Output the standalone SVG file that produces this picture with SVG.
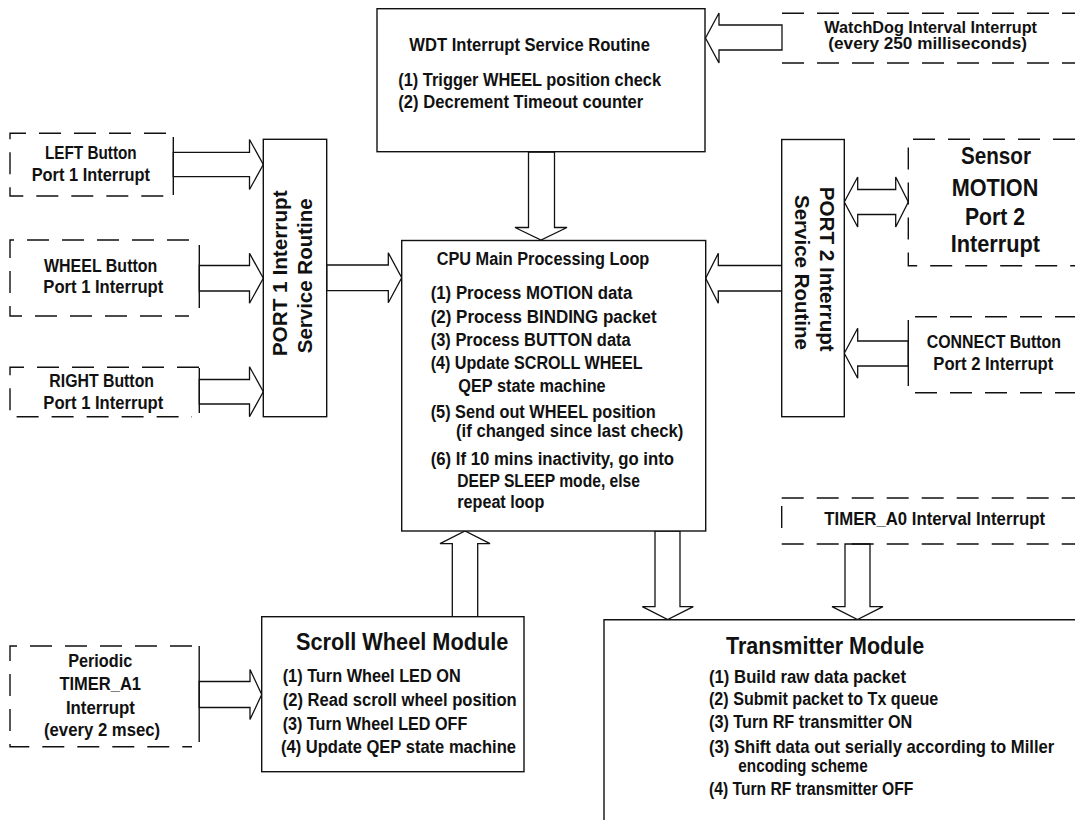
<svg xmlns="http://www.w3.org/2000/svg" width="1075" height="820" viewBox="0 0 1075 820">
<style>
text{font-family:"Liberation Sans Narrow","Liberation Sans",Arial,sans-serif;font-weight:bold;fill:#111;font-size:18px}
.t{font-size:23.5px}
.r{font-size:21px}
.s{font-size:16px}
.box{fill:#fff;stroke:#111;stroke-width:1.4}
.dash{fill:none;stroke:#111;stroke-width:1.4;stroke-dasharray:22 13}
.solid{fill:none;stroke:#111;stroke-width:1.4}
.arr{fill:#fff;stroke:#111;stroke-width:1.3;stroke-linejoin:miter}
</style>
<rect width="1075" height="820" fill="#fff"/>

<g id="connectors">
<polygon class="arr" points="705.5,38 719,13 719,25 782,25 782,50 719,50 719,63"/>
<polygon class="arr" points="528.5,152 554.5,152 554.5,227.5 567,227.5 541,240 515,227.5 528.5,227.5"/>
<polygon class="arr" points="173.3,152.3 249.5,152.3 249.5,139.5 263.3,164.5 249.5,189.5 249.5,176.7 173.3,176.7"/>
<polygon class="arr" points="199.3,265.5 249.5,265.5 249.5,253.3 263.3,278.3 249.5,303.3 249.5,291 199.3,291"/>
<polygon class="arr" points="199.3,379.5 249.5,379.5 249.5,366.7 263.3,391.7 249.5,416.7 249.5,404 199.3,404"/>
<polygon class="arr" points="326.7,265 388.3,265 388.3,252.8 401.7,277.8 388.3,302.8 388.3,290.7 326.7,290.7"/>
<polygon class="arr" points="705.7,278.3 718.3,253.3 718.3,265.5 781.7,265.5 781.7,291 718.3,291 718.3,303.3"/>
<polygon class="arr" points="844.3,202 857.7,177 857.7,189.5 895.7,189.5 895.7,177 908.3,202 895.7,227 895.7,214.5 857.7,214.5 857.7,227"/>
<polygon class="arr" points="844.3,353.3 857.7,328.3 857.7,341 908.3,341 908.3,366 857.7,366 857.7,378.3"/>
<polygon class="arr" points="655,531 680,531 680,606.7 693.3,606.7 667.7,619.5 642.3,606.7 655,606.7"/>
<polygon class="arr" points="845,544 870,544 870,606.7 883,606.7 857.5,619.5 832,606.7 845,606.7"/>
<polygon class="arr" points="452.3,616.7 477.7,616.7 477.7,543.7 490,543.7 465,531 440,543.7 452.3,543.7"/>
<polygon class="arr" points="199.2,681.5 250,681.5 250,669.5 261.7,694.5 250,719.5 250,707.5 199.2,707.5"/>
</g>

<g id="wdt-isr">
<rect class="box" x="377" y="8.7" width="328" height="143"/>
<text x="409.3" y="51" textLength="240.7" lengthAdjust="spacingAndGlyphs">WDT Interrupt Service Routine</text>
<text x="398.3" y="86" textLength="262.7" lengthAdjust="spacingAndGlyphs">(1) Trigger WHEEL position check</text>
<text x="398.3" y="108" textLength="245" lengthAdjust="spacingAndGlyphs">(2) Decrement Timeout counter</text>
</g>

<g id="watchdog-interrupt">
<path class="dash" d="M782,13.3 H1075 M782,63 H1075"/>
<text class="s" x="824.3" y="32.5" textLength="212.7" lengthAdjust="spacingAndGlyphs">WatchDog Interval Interrupt</text>
<text class="s" x="828.3" y="48.5" textLength="198.7" lengthAdjust="spacingAndGlyphs">(every 250 milliseconds)</text>
</g>

<g id="left-button">
<path class="dash" d="M166,133.3 H10 V196 H166"/>
<path class="solid" d="M173.3,137 V195"/>
<text x="45" y="159.3" textLength="91.7" lengthAdjust="spacingAndGlyphs">LEFT Button</text>
<text x="31.7" y="180.5" textLength="118.3" lengthAdjust="spacingAndGlyphs">Port 1 Interrupt</text>
</g>

<g id="wheel-button">
<path class="dash" d="M189,240 H10 V316 H189"/>
<path class="solid" d="M199.3,245 V308"/>
<text x="44" y="271.7" textLength="113.3" lengthAdjust="spacingAndGlyphs">WHEEL Button</text>
<text x="43.3" y="292.5" textLength="120" lengthAdjust="spacingAndGlyphs">Port 1 Interrupt</text>
</g>

<g id="right-button">
<path class="dash" d="M199,367.3 H10 V416.7 H192"/>
<path class="solid" d="M199.3,368 V413"/>
<text x="49.3" y="386.7" textLength="104.7" lengthAdjust="spacingAndGlyphs">RIGHT Button</text>
<text x="43.3" y="408.5" textLength="120" lengthAdjust="spacingAndGlyphs">Port 1 Interrupt</text>
</g>

<g id="port1-isr">
<rect class="box" x="263.3" y="139.3" width="63.4" height="277.4"/>
<text class="r" transform="translate(286.5,273.3) rotate(-90)" text-anchor="middle" textLength="166" lengthAdjust="spacingAndGlyphs">PORT 1 Interrupt</text>
<text class="r" transform="translate(311.5,275.8) rotate(-90)" text-anchor="middle" textLength="155" lengthAdjust="spacingAndGlyphs">Service Routine</text>
</g>

<g id="cpu-main-loop">
<rect class="box" x="401.7" y="240.5" width="304" height="290.5"/>
<text x="436.7" y="265" textLength="212.6" lengthAdjust="spacingAndGlyphs">CPU Main Processing Loop</text>
<text x="430.7" y="299.3" textLength="201.6" lengthAdjust="spacingAndGlyphs">(1) Process MOTION data</text>
<text x="430.7" y="322.7" textLength="226" lengthAdjust="spacingAndGlyphs">(2) Process BINDING packet</text>
<text x="430.7" y="346" textLength="200" lengthAdjust="spacingAndGlyphs">(3) Process BUTTON data</text>
<text x="430.7" y="369.3" textLength="212" lengthAdjust="spacingAndGlyphs">(4) Update SCROLL WHEEL</text>
<text x="458.3" y="392.3" textLength="147.4" lengthAdjust="spacingAndGlyphs">QEP state machine</text>
<text x="430.7" y="417.7" textLength="225" lengthAdjust="spacingAndGlyphs">(5) Send out WHEEL position</text>
<text x="456" y="436.5" textLength="227.3" lengthAdjust="spacingAndGlyphs">(if changed since last check)</text>
<text x="430.7" y="465" textLength="243.3" lengthAdjust="spacingAndGlyphs">(6) If 10 mins inactivity, go into</text>
<text x="457.3" y="486.7" textLength="182.7" lengthAdjust="spacingAndGlyphs">DEEP SLEEP mode, else</text>
<text x="457.3" y="507.7" textLength="87" lengthAdjust="spacingAndGlyphs">repeat loop</text>
</g>

<g id="port2-isr">
<rect class="box" x="781.7" y="139.5" width="62.6" height="277.2"/>
<text class="r" transform="translate(819.5,269.2) rotate(90)" text-anchor="middle" textLength="165" lengthAdjust="spacingAndGlyphs">PORT 2 Interrupt</text>
<text class="r" transform="translate(794.5,272.5) rotate(90)" text-anchor="middle" textLength="155" lengthAdjust="spacingAndGlyphs">Service Routine</text>
</g>

<g id="sensor-motion">
<path class="dash" d="M1075,139.3 H908.3 V265.7 H1075"/>
<text class="t" x="961" y="164" textLength="70" lengthAdjust="spacingAndGlyphs">Sensor</text>
<text class="t" x="951.7" y="196" textLength="86.6" lengthAdjust="spacingAndGlyphs">MOTION</text>
<text class="t" x="965" y="225" textLength="60" lengthAdjust="spacingAndGlyphs">Port 2</text>
<text class="t" x="950.7" y="251.7" textLength="89.3" lengthAdjust="spacingAndGlyphs">Interrupt</text>
</g>

<g id="connect-button">
<path class="dash" d="M915,316.7 H1075 M915,392.7 H1075"/>
<path class="solid" d="M908.3,320 V386"/>
<text transform="translate(926.7,347.7) scale(0.85,1)" textLength="158" lengthAdjust="spacingAndGlyphs">CONNECT Button</text>
<text x="933.3" y="369.5" textLength="120" lengthAdjust="spacingAndGlyphs">Port 2 Interrupt</text>
</g>

<g id="timer-a0">
<path class="dash" d="M781.7,498 H1075 M781.7,544 H1075 M781.7,506 V531"/>
<text x="824.3" y="525" textLength="220.7" lengthAdjust="spacingAndGlyphs">TIMER_A0 Interval Interrupt</text>
</g>

<g id="timer-a1">
<path class="dash" d="M192,646 H10 V746.7 H192"/>
<path class="solid" d="M199.2,646 V742"/>
<text x="68.2" y="667" textLength="64" lengthAdjust="spacingAndGlyphs">Periodic</text>
<text x="59.4" y="690" textLength="81.6" lengthAdjust="spacingAndGlyphs">TIMER_A1</text>
<text x="65.9" y="713.5" textLength="69" lengthAdjust="spacingAndGlyphs">Interrupt</text>
<text x="44" y="736" textLength="116.2" lengthAdjust="spacingAndGlyphs">(every 2 msec)</text>
</g>

<g id="scroll-wheel-module">
<rect class="box" x="261.7" y="616.7" width="262.3" height="155"/>
<text class="t" x="296" y="650" textLength="212.3" lengthAdjust="spacingAndGlyphs">Scroll Wheel Module</text>
<text x="282.7" y="682.3" textLength="178" lengthAdjust="spacingAndGlyphs">(1) Turn Wheel LED ON</text>
<text x="282.7" y="706" textLength="234" lengthAdjust="spacingAndGlyphs">(2) Read scroll wheel position</text>
<text x="282.7" y="730" textLength="184.6" lengthAdjust="spacingAndGlyphs">(3) Turn Wheel LED OFF</text>
<text x="281" y="752.7" textLength="235" lengthAdjust="spacingAndGlyphs">(4) Update QEP state machine</text>
</g>

<g id="transmitter-module">
<path class="box" d="M604,825 V619.7 H1080"/>
<text class="t" x="726" y="654.3" textLength="198.3" lengthAdjust="spacingAndGlyphs">Transmitter Module</text>
<text x="709" y="682.7" textLength="197" lengthAdjust="spacingAndGlyphs">(1) Build raw data packet</text>
<text x="709" y="705" textLength="229.3" lengthAdjust="spacingAndGlyphs">(2) Submit packet to Tx queue</text>
<text x="709" y="728.3" textLength="203.3" lengthAdjust="spacingAndGlyphs">(3) Turn RF transmitter ON</text>
<text transform="translate(709,752.7) scale(0.85,1)" textLength="406.2" lengthAdjust="spacingAndGlyphs">(3) Shift data out serially according to Miller</text>
<text x="738.3" y="771.5" textLength="129.4" lengthAdjust="spacingAndGlyphs">encoding scheme</text>
<text x="709" y="795" textLength="204.3" lengthAdjust="spacingAndGlyphs">(4) Turn RF transmitter OFF</text>
</g>
</svg>
